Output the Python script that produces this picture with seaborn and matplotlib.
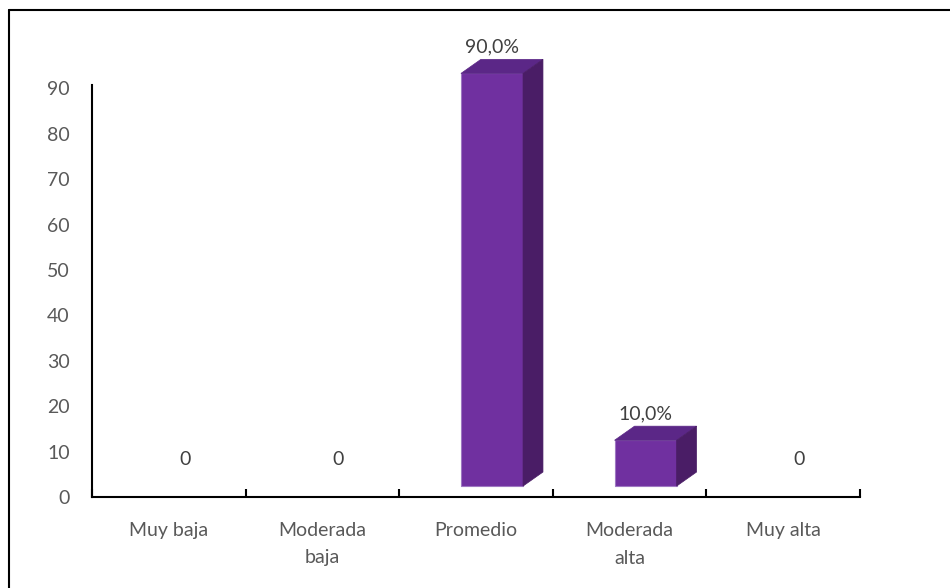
import matplotlib
matplotlib.use("Agg")
import matplotlib.pyplot as plt
from matplotlib.patches import Polygon
from matplotlib.lines import Line2D
import seaborn as sns
import pandas as pd

categories = ["Muy baja", "Moderada\nbaja", "Promedio", "Moderada\nalta", "Muy alta"]
values = [0, 0, 90, 10, 0]
value_labels = ["0", "0", "90,0%", "10,0%", "0"]
y_ticks = [0, 10, 20, 30, 40, 50, 60, 70, 80, 90]

df = pd.DataFrame({"cat": categories, "val": values})

sns.set_theme(style="white")
plt.rcParams["font.family"] = ["Lato", "DejaVu Sans"]

FRONT = "#7030A0"
TOP = "#5B2787"
SIDE = "#4A1D66"
EDGE = "#9E78C2"
TXT = "#595959"
FS = 14

fig = plt.figure(figsize=(9.5, 5.88), dpi=100)
ax = fig.add_axes([92 / 950, 91 / 588, 768 / 950, 454 / 588])

sns.barplot(data=df, x="cat", y="val", color=FRONT, width=0.404, ax=ax,
            saturation=1, errorbar=None, edgecolor=EDGE, linewidth=0.8)

ax.set_xlim(-0.5, 4.5)
ax.set_ylim(0, 100)

shift = 0.104     # bars sit right of the category centre (3D look)
base = 2.4        # floor of the 3D bars
dx = 0.13         # depth offset in x (category units)
dy = 3.1          # depth offset in y (data units)

for p, lab in zip(ax.patches, value_labels):
    p.set_x(p.get_x() + shift)
    p.set_y(base)
    x0 = p.get_x()
    w = p.get_width()
    h = p.get_height()
    top = base + h * 1.01
    if h > 0:
        p.set_height(h * 1.01)
        ax.add_patch(Polygon([(x0, top), (x0 + dx, top + dy), (x0 + w + dx, top + dy), (x0 + w, top)],
                             closed=True, facecolor=TOP, edgecolor=TOP, linewidth=0.5, zorder=p.get_zorder()))
        ax.add_patch(Polygon([(x0 + w, base), (x0 + w + dx, base + dy), (x0 + w + dx, top + dy), (x0 + w, top)],
                             closed=True, facecolor=SIDE, edgecolor=SIDE, linewidth=0.5, zorder=p.get_zorder()))
    else:
        p.set_visible(False)
    ax.text(x0 + w / 2, top + dy + 0.9, lab, ha="center", va="bottom",
            fontsize=FS, color="#404040", clip_on=False)

ax.set_xlabel("")
ax.set_ylabel("")
ax.set_yticks(y_ticks)
ax.set_yticklabels([str(t) for t in y_ticks])
ax.set_xticks(range(len(categories)))
ax.set_xticklabels(categories, linespacing=1.75)
ax.set_xticks([i - 0.5 for i in range(len(categories) + 1)], minor=True)

ax.tick_params(axis="y", length=0, pad=16, labelsize=FS, labelcolor=TXT)
ax.tick_params(axis="x", which="major", length=0, pad=18, labelsize=FS, labelcolor=TXT)
ax.tick_params(axis="x", which="minor", length=6, width=1.5, direction="in", color="black", bottom=True)

for s in ["top", "right"]:
    ax.spines[s].set_visible(False)
for s in ["left", "bottom"]:
    ax.spines[s].set_color("black")
    ax.spines[s].set_linewidth(1.5)
ax.spines["left"].set_bounds(0, 90.7)
ax.grid(False)

# outer frame (only top and left edges are visible in the crop)
fig.add_artist(Line2D([8.5 / 950, 8.5 / 950], [0, 1 - 10 / 588], color="black", linewidth=1.5))
fig.add_artist(Line2D([8.5 / 950, 1], [1 - 10 / 588, 1 - 10 / 588], color="black", linewidth=1.5))

fig.savefig("out.png", dpi=100)
